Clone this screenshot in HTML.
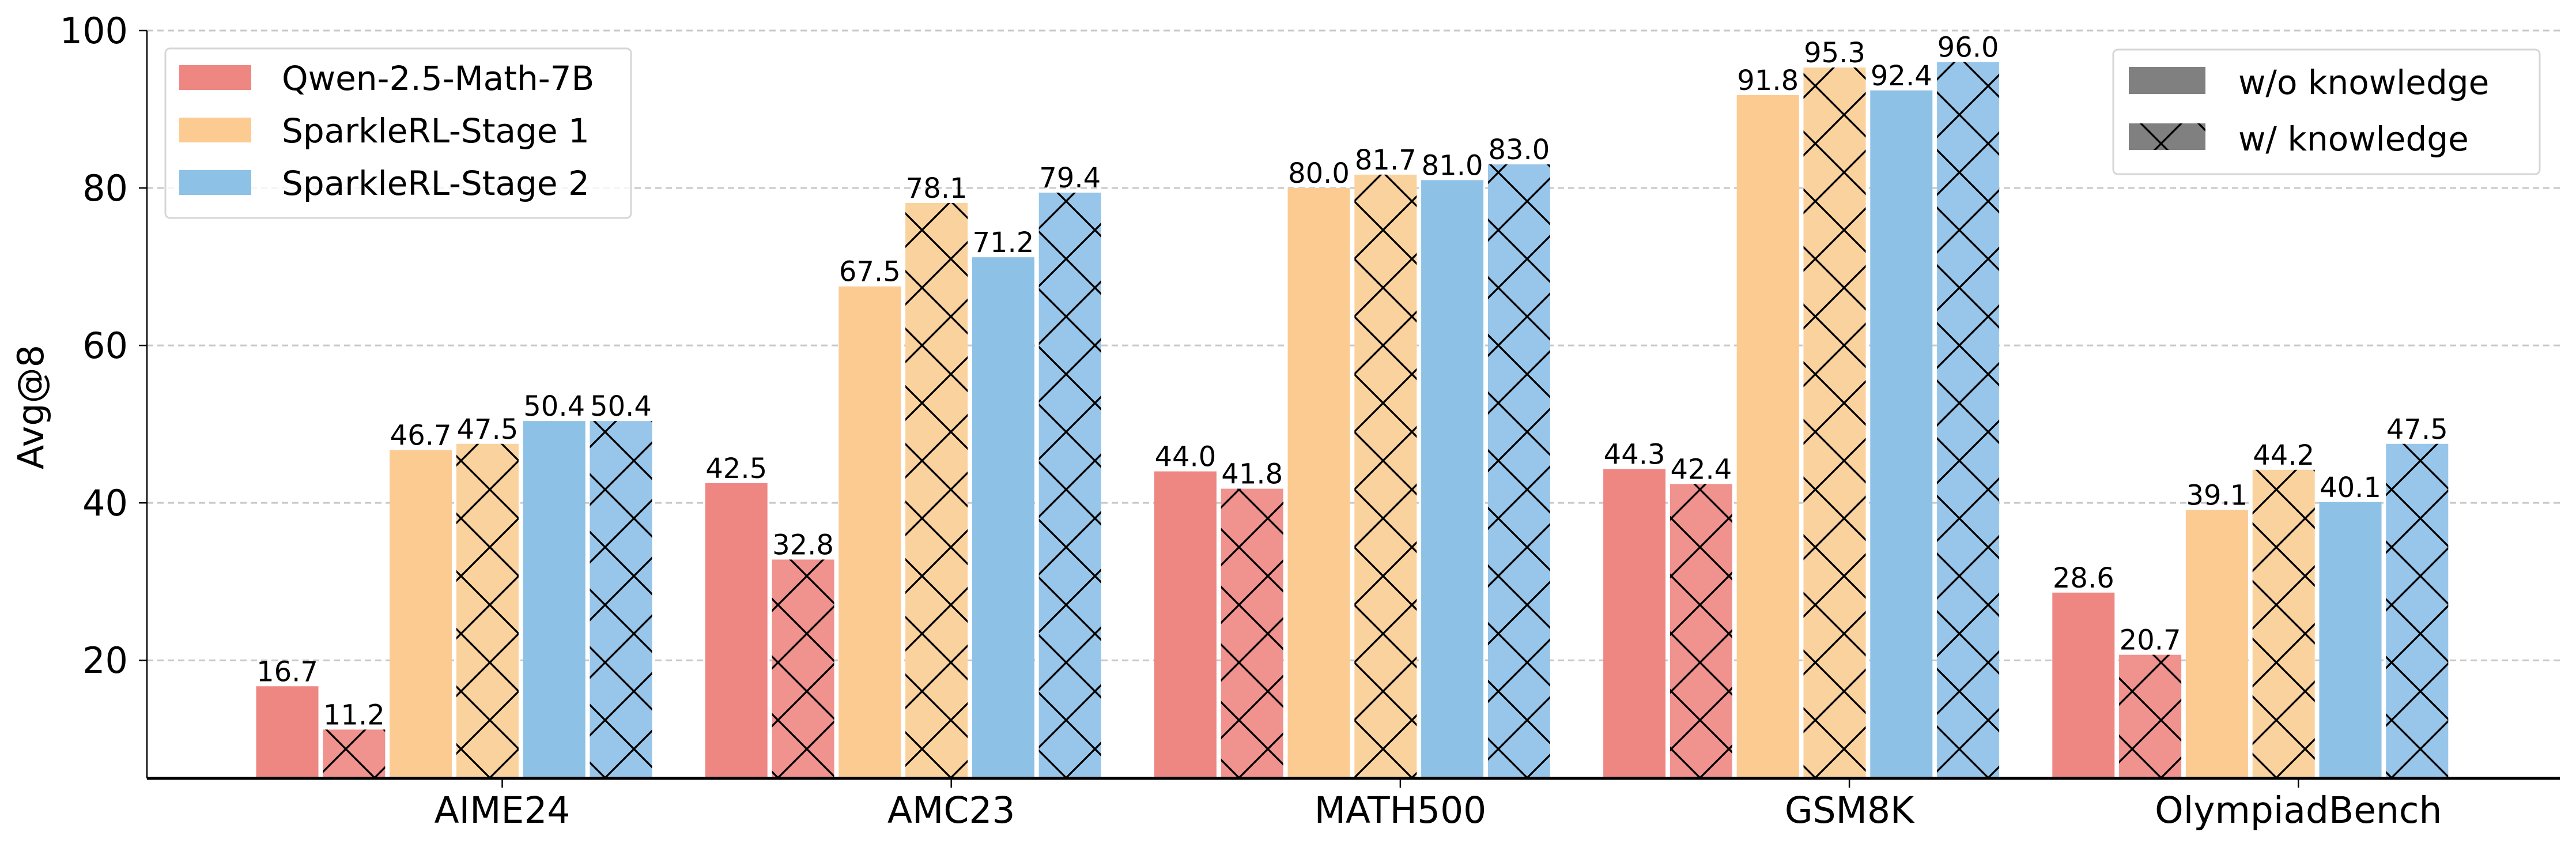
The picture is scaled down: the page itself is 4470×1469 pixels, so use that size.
<!DOCTYPE html>
<html><head><meta charset="utf-8"><style>
html,body{margin:0;padding:0;background:#fff;}
svg{display:block;font-family:"DejaVu Sans","Liberation Sans",sans-serif;}
</style></head><body>
<svg id="chart" width="4470" height="1469" viewBox="0 0 4470 1469" xmlns="http://www.w3.org/2000/svg">
<defs>
<pattern id="hatch" patternUnits="userSpaceOnUse" x="0" y="-1" width="100" height="100">
<line x1="-10" y1="-10" x2="110" y2="110" stroke="#000" stroke-width="3.3"/>
<line x1="-10" y1="110" x2="110" y2="-10" stroke="#000" stroke-width="3.3"/>
</pattern>
</defs>
<g id="grid"></g>
<g id="bars"></g>
<g id="axes"></g>
<text x="0" y="0" font-size="62" text-anchor="middle" transform="translate(75,706) rotate(-90)">Avg@8</text>
<g>
<rect x="287" y="84" width="808" height="294" rx="8" fill="#fff" fill-opacity="0.8" stroke="#d6d6d6" stroke-width="3"/>
<rect x="311" y="113" width="125" height="43" fill="#EE8682"/>
<text x="489" y="156" font-size="58">Qwen-2.5-Math-7B</text>
<rect x="311" y="204" width="125" height="43" fill="#FBCB92"/>
<text x="489" y="247" font-size="58">SparkleRL-Stage 1</text>
<rect x="311" y="295" width="125" height="43" fill="#8DC1E6"/>
<text x="489" y="338" font-size="58">SparkleRL-Stage 2</text>
</g>
<g>
<rect x="3667" y="86" width="740" height="216" rx="8" fill="#fff" fill-opacity="0.8" stroke="#d6d6d6" stroke-width="3"/>
<rect x="3694" y="116" width="133" height="47" fill="#808080"/>
<text x="3884" y="163" font-size="58">w/o knowledge</text>
<rect x="3694" y="214" width="133" height="46" fill="#808080"/>
<rect x="3694" y="214" width="133" height="46" fill="url(#hatch)"/>
<text x="3884" y="261" font-size="58">w/ knowledge</text>
</g>
</svg>
<script>
const categories = ["AIME24","AMC23","MATH500","GSM8K","OlympiadBench"];
const qwenWithout = [16.7, 42.5, 44.0, 44.3, 28.6];
const qwenWith = [11.2, 32.8, 41.8, 42.4, 20.7];
const stage1Without = [46.7, 67.5, 80.0, 91.8, 39.1];
const stage1With = [47.5, 78.1, 81.7, 95.3, 44.2];
const stage2Without = [50.4, 71.2, 81.0, 92.4, 40.1];
const stage2With = [50.4, 79.4, 83.0, 96.0, 47.5];
const yTicks = [20, 40, 60, 80, 100];
const seriesNames = ["qwen-without","qwen-with","stage1-without","stage1-with","stage2-without","stage2-with"];

const NS = "http://www.w3.org/2000/svg";
const Y_MIN = 5, Y_MAX = 100, PLOT_TOP = 53, PLOT_BOTTOM = 1350, AX_LEFT = 255, AX_RIGHT = 4442;
function yScale(v){ return PLOT_BOTTOM - (v - Y_MIN) / (Y_MAX - Y_MIN) * (PLOT_BOTTOM - PLOT_TOP); }
function xTick(g){ return 871.5 + g * 779.2; }
const BAR_W = 108, PITCH = 115.8;
function xBar(g, i){ return xTick(g) - 427 + i * PITCH; }
function mk(tag, attrs, parent){ const e = document.createElementNS(NS, tag); for (const k in attrs) e.setAttribute(k, attrs[k]); parent.appendChild(e); return e; }

const grid = document.getElementById("grid");
const axes = document.getElementById("axes");
const barsG = document.getElementById("bars");

yTicks.forEach(t => {
  const y = yScale(t);
  const gl = mk("line", {x1: AX_LEFT, x2: AX_RIGHT, y1: y, y2: y, stroke: "#c8c8c8", "stroke-width": 3, "stroke-dasharray": "11 7"}, grid);
  
  
  const tk = mk("line", {x1: AX_LEFT - 14, x2: AX_LEFT, y1: y, y2: y, stroke: "#000", "stroke-width": 2.5}, axes);
  
  
  const lb = mk("text", {x: 222, y: y + 22, "font-size": 62, "text-anchor": "end"}, axes);
  lb.textContent = t;
  
  
});

const series = [
  {vals: qwenWithout, color: "#EE8682", hatch: false},
  {vals: qwenWith, color: "#F0928E", hatch: true},
  {vals: stage1Without, color: "#FBCB92", hatch: false},
  {vals: stage1With, color: "#FAD29E", hatch: true},
  {vals: stage2Without, color: "#8DC1E6", hatch: false},
  {vals: stage2With, color: "#98C6EA", hatch: true}
];

categories.forEach((c, g) => {
  series.forEach((s, i) => {
    const v = s.vals[g];
    const x = xBar(g, i), y = yScale(v), h = PLOT_BOTTOM - y;
    const r = mk("rect", {x: x, y: y, width: BAR_W, height: h, fill: s.color}, barsG);
    
    
    if (s.hatch) {
      const hr = mk("rect", {x: x, y: y, width: BAR_W, height: h, fill: "url(#hatch)"}, barsG);
      
      
    }
    const t = mk("text", {x: x + BAR_W / 2, y: y - 9, "font-size": 48, "text-anchor": "middle"}, barsG);
    t.textContent = v.toFixed(1);
    
    
  });
  const xt = xTick(g);
  const tk = mk("line", {x1: xt, x2: xt, y1: PLOT_BOTTOM, y2: PLOT_BOTTOM + 16, stroke: "#000", "stroke-width": 2.5}, axes);
  
  
  const lb = mk("text", {x: xt, y: 1427, "font-size": 63, "text-anchor": "middle"}, axes);
  lb.textContent = c;
  
  
});

const ls = mk("line", {x1: AX_LEFT, x2: AX_LEFT, y1: PLOT_TOP, y2: PLOT_BOTTOM, stroke: "#000", "stroke-width": 2.5}, axes);


const bs = mk("line", {x1: AX_LEFT, x2: AX_RIGHT, y1: PLOT_BOTTOM, y2: PLOT_BOTTOM, stroke: "#000", "stroke-width": 5}, axes);


</script>
</body></html>
